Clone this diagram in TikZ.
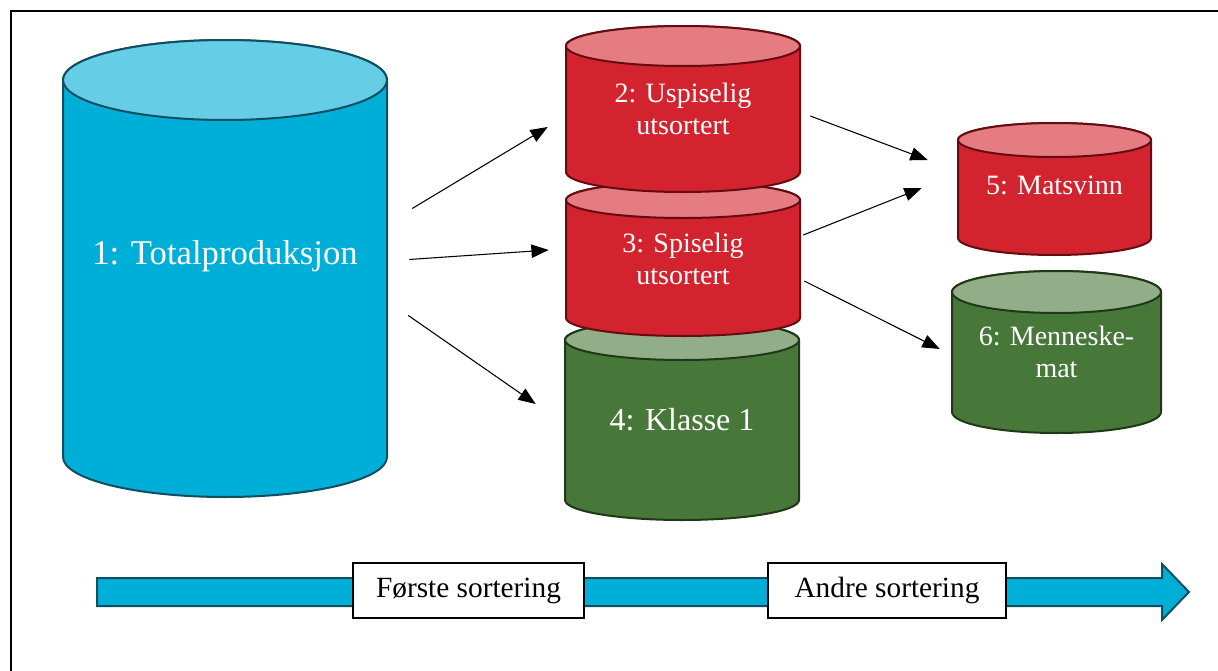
\documentclass[tikz,border=0pt]{standalone}
\usepackage{fontspec}
\setmainfont{Liberation Serif}
\usetikzlibrary{arrows.meta,calc}

\definecolor{blueA}{HTML}{00AFD7}
\definecolor{blueB}{HTML}{66CDE6}
\definecolor{blueC}{HTML}{104E60}
\definecolor{redA}{HTML}{D2232F}
\definecolor{redB}{HTML}{E57C82}
\definecolor{redC}{HTML}{650C12}
\definecolor{grnA}{HTML}{48773A}
\definecolor{grnB}{HTML}{92AE88}
\definecolor{grnC}{HTML}{1F3818}

% cylinder: name, colour, x centre, top y, bottom y, half width, ry, text, text options
\newcommand\cyl[9]{%
  \path[#2body] (#3-#6,-#4) -- (#3-#6,-#5)
    arc[start angle=180,end angle=360,x radius=#6,y radius=#7]
    -- (#3+#6,-#4)
    arc[start angle=0,end angle=180,x radius=#6,y radius=#7] -- cycle;
  \path[#2top] (#3,-#4) ellipse[x radius=#6,y radius=#7];
  \node[lbl,minimum width={#6*1.5pt},minimum height={(#5-#4)*0.75pt},#9]
    (#1) at (#3,{-(#4+#5)/2}) {#8};
}

\begin{document}
\begin{tikzpicture}[
  x=0.75pt,y=0.75pt,
  lbl/.style={text=white,align=center,inner sep=0pt,font=\fontsize{21}{24}\selectfont},
  box/.style={draw,fill=white,line width=1pt,minimum width=#1,minimum height=41.25pt,
    inner sep=0pt,font=\fontsize{22}{24}\selectfont},
  bluebody/.style={fill=blueA,draw=blueC,line width=1.5pt},
  bluetop/.style={fill=blueB,draw=blueC,line width=1.5pt},
  redbody/.style={fill=redA,draw=redC,line width=1.5pt},
  redtop/.style={fill=redB,draw=redC,line width=1.5pt},
  grnbody/.style={fill=grnA,draw=grnC,line width=1.5pt},
  grntop/.style={fill=grnB,draw=grnC,line width=1.5pt},
  >={Triangle[length=13pt,width=10pt]},
  arr/.style={->,line width=0.8pt}
]
\useasboundingbox (0,0) rectangle (1218,-671);
\draw[line width=1.5pt] (10.5,-671) -- (10.5,-10.5) -- (1218,-10.5);

% cylinders
\cyl{kl1}{grn}{682}{340}{500}{117}{20}{4: Klasse 1}{font=\fontsize{24}{26}\selectfont}
\cyl{spi}{red}{683}{200}{318}{117}{18}{3: Spiselig\\utsortert}{}
\cyl{usp}{red}{683}{46}{172}{117}{20}{2: Uspiselig\\utsortert}{}
\cyl{tot}{blue}{225}{80}{457}{162}{40}{1: Totalproduksjon}{yshift=9.4pt,font=\fontsize{26}{28}\selectfont}
\cyl{mat}{red}{1054.5}{140}{238}{96.5}{17}{5: Matsvinn}{yshift=3pt}
\cyl{men}{grn}{1056.5}{292}{412}{104.5}{21}{6: Menneske-\\mat}{}

\draw[arr] ($(tot.east)+(25,47.5)$) -- ($(usp.west)+(-18,-18)$);
\draw[arr] ($(tot.east)+(22,-3.5)$) -- ($(spi.west)+(-17,9)$);
\draw[arr] ($(tot.east)+(21,-59.5)$) -- ($(kl1.west)+(-29,16)$);
\draw[arr] ($(usp.east)+(10,-7)$) -- ($(mat.west)+(-30,25)$);
\draw[arr] ($(spi.east)+(3,24)$) -- ($(mat.west)+(-36,-3)$);
\draw[arr] ($(spi.east)+(4,-22)$) -- ($(men.west)+(-12,3)$);

% time line
\draw[bluebody] (97,-578) -- (1162,-578) -- (1162,-564) -- (1189,-592)
  -- (1162,-620) -- (1162,-606) -- (97,-606) -- cycle;
\node[box=173.25pt] (sort1) at (468.5,-590.5) {Første sortering};
\node[box=178.5pt] (sort2) at (887,-590.5) {Andre sortering};
\end{tikzpicture}
\end{document}
